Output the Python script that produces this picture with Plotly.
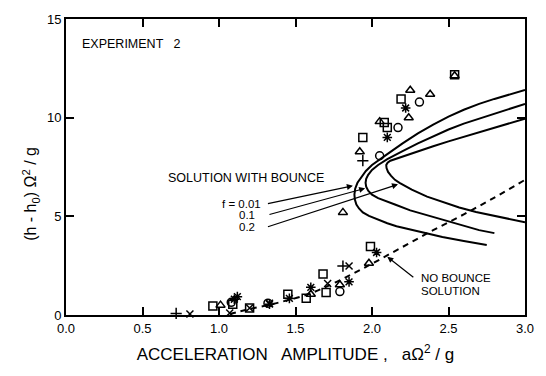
import plotly.graph_objects as go

# ---- data ----
# theoretical "solution with bounce" curves (C-shaped), per f value
f001_x = [3.0, 2.9, 2.8, 2.7, 2.6, 2.5, 2.4, 2.3, 2.2, 2.1, 2.0, 1.96, 1.93, 1.905, 1.89, 1.885,
          1.888, 1.898, 1.915, 1.94, 1.98, 2.03, 2.1, 2.16, 2.24, 2.33, 2.46, 2.6, 2.75]
f001_y = [11.4, 11.18, 10.95, 10.7, 10.4, 10.05, 9.65, 9.2, 8.7, 8.15, 7.6, 7.3, 7.0, 6.7, 6.4, 6.1,
          5.85, 5.6, 5.4, 5.2, 5.02, 4.85, 4.65, 4.5, 4.35, 4.18, 3.95, 3.75, 3.55]
f01_x = [3.0, 2.9, 2.8, 2.7, 2.6, 2.5, 2.4, 2.3, 2.2, 2.1, 2.04, 2.0, 1.975, 1.962, 1.958,
         1.962, 1.975, 2.0, 2.04, 2.09, 2.15, 2.25, 2.36, 2.5, 2.6, 2.7, 2.8]
f01_y = [10.7, 10.45, 10.2, 9.95, 9.7, 9.4, 9.05, 8.7, 8.3, 7.9, 7.6, 7.35, 7.1, 6.9, 6.7,
         6.5, 6.3, 6.1, 5.92, 5.76, 5.6, 5.3, 5.05, 4.75, 4.5, 4.3, 4.15]
f02_x = [3.0, 2.9, 2.8, 2.7, 2.6, 2.5, 2.4, 2.3, 2.2, 2.15, 2.12, 2.102, 2.093,
         2.095, 2.105, 2.125, 2.15, 2.18, 2.26, 2.36, 2.47, 2.57, 2.68, 2.79, 2.9, 3.0]
f02_y = [9.95, 9.72, 9.5, 9.28, 9.05, 8.8, 8.55, 8.3, 8.05, 7.92, 7.82, 7.72, 7.6,
         7.45, 7.25, 7.05, 6.85, 6.7, 6.35, 6.0, 5.7, 5.45, 5.22, 5.03, 4.85, 4.7]
# no-bounce solution (dashed)
nb_x = [1.07, 1.2, 1.4, 1.6, 1.8, 2.0, 2.2, 2.4, 2.6, 2.8, 3.0]
nb_y = [0.05, 0.3, 0.65, 1.1, 1.8, 2.6, 3.45, 4.3, 5.1, 5.95, 6.85]

# experimental points by symbol
sq_x = [0.96, 1.09, 1.2, 1.45, 1.57, 1.68, 1.70, 1.99, 1.94, 2.08, 2.10, 2.19, 2.54]
sq_y = [0.45, 0.55, 0.35, 1.05, 0.85, 2.08, 1.14, 3.47, 9.0, 9.75, 9.5, 10.94, 12.18]
tri_x = [1.01, 1.6, 1.79, 1.98, 1.81, 1.92, 2.05, 2.24, 2.25, 2.38, 2.54]
tri_y = [0.5, 1.05, 1.53, 2.62, 5.2, 8.27, 9.8, 10.0, 11.39, 11.19, 12.12]
cir_x = [1.08, 1.32, 1.79, 2.05, 2.17, 2.31]
cir_y = [0.64, 0.6, 1.19, 8.07, 9.5, 10.79]
ast_x = [1.12, 1.1, 1.33, 1.46, 1.60, 1.85, 2.03, 2.10, 2.22]
ast_y = [0.93, 0.8, 0.55, 0.84, 1.4, 1.68, 3.17, 9.0, 10.49]
plus_x = [0.72, 1.81, 1.94]
plus_y = [0.08, 2.48, 7.82]
xx_x = [0.81, 1.07, 1.2, 1.71, 1.85, 1.33]
xx_y = [0.05, 0.1, 0.35, 1.6, 2.48, 0.6]

x_ticks = [0.0, 0.5, 1.0, 1.5, 2.0, 2.5, 3.0]
x_ticklabels = ["0.0", "0.5", "1.0", "1.5", "2.0", "2.5", "3.0"]
y_ticks = [0, 5, 10, 15]
y_ticklabels = ["0", "5", "10", "15"]

FONT = "Liberation Sans, Arial, sans-serif"
fig = go.Figure()

for cx, cy in [(f001_x, f001_y), (f01_x, f01_y), (f02_x, f02_y)]:
    fig.add_trace(go.Scatter(x=cx, y=cy, mode="lines", line=dict(color="black", width=2),
                             showlegend=False, hoverinfo="skip"))
fig.add_trace(go.Scatter(x=nb_x, y=nb_y, mode="lines", line=dict(color="black", width=2, dash="6px,5px", shape="spline"),
                         showlegend=False, hoverinfo="skip"))

marker_sets = [
    (sq_x, sq_y, "square-open", 8),
    (tri_x, tri_y, "triangle-up-open", 8),
    (cir_x, cir_y, "circle-open", 8),
    (ast_x, ast_y, "asterisk-open", 8),
    (plus_x, plus_y, "cross-thin-open", 8),
    (xx_x, xx_y, "x-thin-open", 7),
]
for mx, my, sym, sz in marker_sets:
    fig.add_trace(go.Scatter(x=mx, y=my, mode="markers", cliponaxis=False,
                             marker=dict(symbol=sym, size=sz, color="black", line=dict(color="black", width=1.5)),
                             showlegend=False))

ann = []
ann.append(dict(x=0.03, y=0.915, xref="paper", yref="paper", text="EXPERIMENT   2", showarrow=False,
                xanchor="left", yanchor="middle", font=dict(size=12.5, family=FONT, color="black")))
ann.append(dict(x=1.175, y=6.93, xref="x", yref="y", text="SOLUTION WITH BOUNCE", showarrow=False,
                xanchor="center", yanchor="middle", font=dict(size=12.5, family=FONT, color="black")))
ann.append(dict(x=1.285, y=5.63, xref="x", yref="y", text="f = 0.01", showarrow=False,
                xanchor="right", yanchor="middle", font=dict(size=11.5, family=FONT, color="black")))
ann.append(dict(x=1.115, y=5.07, xref="x", yref="y", text="0.1", showarrow=False,
                xanchor="left", yanchor="middle", font=dict(size=11.5, family=FONT, color="black")))
ann.append(dict(x=1.115, y=4.45, xref="x", yref="y", text="0.2", showarrow=False,
                xanchor="left", yanchor="middle", font=dict(size=11.5, family=FONT, color="black")))
# leader lines
for (hx, hy, tx, ty) in [(1.875, 6.55, 1.31, 5.63), (1.955, 6.42, 1.32, 5.07), (2.17, 6.62, 1.31, 4.45)]:
    ann.append(dict(x=hx, y=hy, ax=tx, ay=ty, xref="x", yref="y", axref="x", ayref="y", text="",
                    showarrow=True, arrowhead=2, arrowsize=1, arrowwidth=1.2, arrowcolor="black"))
ann.append(dict(x=2.10, y=2.95, ax=2.28, ay=1.85, xref="x", yref="y", axref="x", ayref="y", text="",
                showarrow=True, arrowhead=2, arrowsize=1, arrowwidth=1.2, arrowcolor="black"))
ann.append(dict(x=2.31, y=1.9, xref="x", yref="y", text="NO BOUNCE", showarrow=False,
                xanchor="left", yanchor="middle", font=dict(size=11.5, family=FONT, color="black")))
ann.append(dict(x=2.31, y=1.2, xref="x", yref="y", text="SOLUTION", showarrow=False,
                xanchor="left", yanchor="middle", font=dict(size=11.5, family=FONT, color="black")))
# y title
ann.append(dict(x=-0.078, y=0.41, xref="paper", yref="paper", text="(h - h<sub>0</sub>) Ω<sup>2</sup> / g",
                showarrow=False, textangle=-90, xanchor="center", yanchor="middle",
                font=dict(size=16, family=FONT, color="black")))

fig.update_layout(
    width=546, height=376,
    margin=dict(l=66, r=19, t=12, b=61),
    paper_bgcolor="white", plot_bgcolor="white",
    annotations=ann,
    xaxis=dict(range=[0, 3], tickvals=x_ticks, ticktext=x_ticklabels, ticks="inside", ticklen=8, tickwidth=2,
               tickcolor="black", showline=True, linewidth=2, linecolor="black", mirror="ticks",
               showgrid=False, zeroline=False,
               tickfont=dict(size=13, family=FONT, color="black"),
               title=dict(text="ACCELERATION   AMPLITUDE ,   aΩ<sup>2</sup> / g", standoff=14,
                          font=dict(size=17, family=FONT, color="black"))),
    yaxis=dict(range=[0, 15], tickvals=y_ticks, ticktext=y_ticklabels, ticks="inside", ticklen=8, tickwidth=2,
               tickcolor="black", showline=True, linewidth=2, linecolor="black", mirror="ticks",
               showgrid=False, zeroline=False,
               tickfont=dict(size=13, family=FONT, color="black")),
)

fig.write_html("out.html")
